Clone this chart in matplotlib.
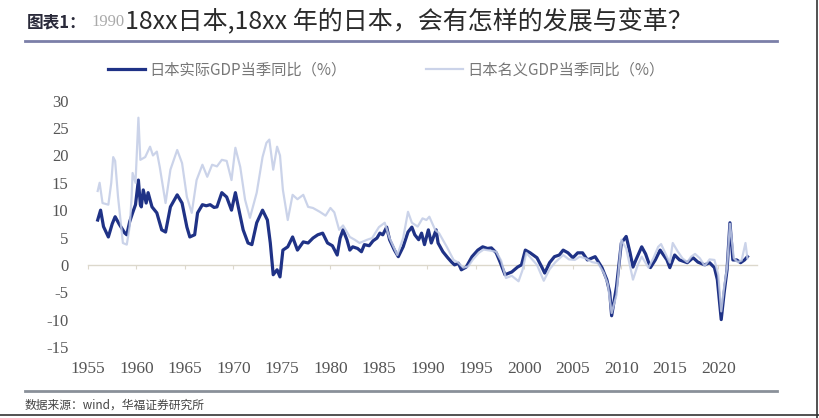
import matplotlib.pyplot as plt
from matplotlib.lines import Line2D

plt.rcParams['font.family'] = ['Noto Sans CJK SC', 'DejaVu Sans']
plt.rcParams['axes.unicode_minus'] = False

# 日本实际GDP当季同比（%）
real_years = [1956.0, 1956.3, 1956.6, 1957.1, 1957.5, 1957.8, 1958.2, 1958.8, 1959.0, 1959.3,
              1959.6, 1959.9, 1960.2, 1960.4, 1960.5, 1960.7, 1961.0, 1961.2, 1961.6, 1962.1,
              1962.6, 1963.0, 1963.5, 1964.2, 1964.7, 1965.2, 1965.5, 1966.0, 1966.3, 1966.8,
              1967.2, 1967.6, 1968.0, 1968.3, 1968.8, 1969.3, 1969.8, 1970.2, 1970.5, 1971.0,
              1971.5, 1971.9, 1972.4, 1973.0, 1973.5, 1973.8, 1974.1, 1974.5, 1974.8, 1975.1,
              1975.6, 1976.1, 1976.6, 1977.2, 1977.7, 1978.2, 1978.7, 1979.2, 1979.7, 1980.2,
              1980.7, 1981.0, 1981.3, 1981.7, 1982.0, 1982.3, 1982.8, 1983.2, 1983.5, 1984.0,
              1984.4, 1984.8, 1985.1, 1985.4, 1985.8, 1986.1, 1986.6, 1987.0, 1987.5, 1988.0,
              1988.4, 1988.7, 1989.1, 1989.4, 1989.7, 1990.1, 1990.4, 1990.9, 1991.1, 1991.6,
              1992.1, 1992.5, 1992.8, 1993.2, 1993.5, 1994.0, 1994.6, 1995.2, 1995.7, 1996.2,
              1996.6, 1997.1, 1997.5, 1998.0, 1998.7, 1999.3, 1999.7, 2000.1, 2000.6, 2001.3,
              2001.8, 2002.1, 2002.6, 2003.1, 2003.6, 2004.0, 2004.5, 2005.0, 2005.5, 2006.0,
              2006.5, 2007.3, 2008.0, 2008.5, 2008.8, 2009.0, 2009.5, 2010.0, 2010.5, 2010.9,
              2011.2, 2011.5, 2012.1, 2012.5, 2013.0, 2013.5, 2014.0, 2014.7, 2015.0, 2015.5,
              2016.0, 2016.8, 2017.4, 2017.9, 2018.6, 2019.1, 2019.6, 2019.9, 2020.3, 2020.6,
              2020.9, 2021.2, 2021.5, 2021.9, 2022.3, 2022.7, 2023.0]
real_gdp = [8.2, 10.0, 7.0, 5.1, 7.5, 8.8, 7.5, 5.8, 5.5, 7.9,
            9.5, 11.0, 15.5, 11.0, 10.6, 13.7, 11.3, 13.2, 10.6, 9.5,
            6.4, 6.0, 10.6, 12.8, 11.3, 6.9, 5.1, 5.5, 9.5, 11.0,
            10.8, 11.0, 10.5, 10.6, 13.2, 12.4, 10.0, 13.2, 10.6, 6.4,
            4.0, 3.7, 7.7, 10.0, 8.2, 4.0, -1.8, -0.9, -2.2, 2.7,
            3.3, 5.1, 2.7, 4.2, 4.0, 4.9, 5.5, 5.8, 4.0, 3.5,
            1.8, 4.9, 6.4, 4.6, 2.7, 3.3, 3.0, 2.4, 3.7, 3.5,
            4.4, 4.9, 5.8, 5.5, 6.9, 4.6, 2.7, 1.5, 3.3, 6.0,
            6.9, 5.5, 4.6, 5.8, 3.7, 6.4, 4.0, 6.4, 4.0, 2.4,
            1.3, 0.5, 0.0, 0.3, -0.9, -0.4, 1.5, 2.7, 3.3, 3.0,
            3.1, 2.2, 0.5, -1.8, -1.3, -0.4, 0.0, 2.7, 2.2, 1.3,
            -0.4, -1.5, 0.4, 1.5, 1.8, 2.7, 2.2, 1.3, 2.2, 2.2,
            0.9, 1.5, -0.5, -2.7, -5.0, -9.3, -4.0, 4.0, 5.2, 2.2,
            -0.4, 0.9, 3.3, 2.0, -0.5, 0.9, 2.7, 0.9, -0.5, 1.8,
            0.9, 0.4, 1.3, 0.5, 0.0, 0.4, -0.5, -2.7, -10.0, -5.1,
            -0.9, 7.7, 0.9, 0.9, 0.4, 0.9, 1.5]

# 日本名义GDP当季同比（%）
nominal_years = [1956.0, 1956.2, 1956.5, 1957.1, 1957.4, 1957.6, 1957.8, 1958.1, 1958.6, 1959.0,
                 1959.3, 1959.5, 1959.6, 1959.9, 1960.2, 1960.4, 1960.9, 1961.4, 1961.7, 1962.1,
                 1962.4, 1963.0, 1963.5, 1964.2, 1964.7, 1965.2, 1965.7, 1966.2, 1966.8, 1967.3,
                 1967.8, 1968.3, 1968.8, 1969.3, 1969.8, 1970.2, 1970.7, 1971.2, 1971.7, 1972.4,
                 1973.0, 1973.4, 1973.7, 1974.1, 1974.5, 1974.8, 1975.1, 1975.6, 1976.1, 1976.6,
                 1977.2, 1977.7, 1978.2, 1978.9, 1979.5, 1980.0, 1980.4, 1980.9, 1981.3, 1982.0,
                 1982.5, 1983.0, 1983.8, 1984.3, 1985.0, 1985.6, 1986.1, 1986.9, 1987.5, 1988.0,
                 1988.4, 1989.0, 1989.5, 1989.9, 1990.2, 1990.8, 1991.2, 1992.0, 1992.7, 1993.2,
                 1993.7, 1994.2, 1994.7, 1995.3, 1995.8, 1996.5, 1997.1, 1997.6, 1998.1, 1998.7,
                 1999.4, 1999.8, 2000.2, 2000.7, 2001.3, 2002.0, 2002.6, 2003.2, 2004.0, 2004.6,
                 2005.2, 2005.7, 2006.3, 2007.0, 2007.6, 2008.2, 2008.6, 2009.0, 2009.5, 2010.0,
                 2010.5, 2011.2, 2011.7, 2012.1, 2012.8, 2013.3, 2013.8, 2014.1, 2014.7, 2015.0,
                 2015.3, 2015.8, 2016.3, 2016.8, 2017.2, 2017.6, 2018.1, 2018.6, 2019.1, 2019.6,
                 2020.0, 2020.3, 2020.6, 2020.9, 2021.2, 2021.6, 2022.0, 2022.4, 2022.8, 2023.0]
nominal_gdp = [13.5, 15.0, 11.3, 11.0, 15.0, 19.7, 19.0, 12.4, 4.0, 3.7,
               7.0, 12.4, 16.8, 15.0, 26.9, 19.2, 19.7, 21.6, 20.0, 20.7,
               17.9, 11.3, 17.4, 21.0, 18.6, 12.4, 9.5, 15.5, 18.3, 16.1,
               18.3, 18.0, 19.2, 19.0, 15.5, 21.4, 17.9, 11.9, 8.6, 13.2,
               19.7, 22.3, 22.9, 17.4, 21.6, 20.0, 13.7, 8.2, 12.8, 12.0,
               12.8, 10.6, 10.4, 9.7, 9.0, 10.4, 9.6, 6.4, 7.2, 5.1,
               4.6, 4.0, 4.6, 4.9, 6.9, 7.7, 4.9, 1.8, 4.9, 9.7,
               7.7, 7.0, 8.5, 8.2, 8.8, 6.4, 5.8, 3.3, 0.9, 0.4,
               -0.5, -0.3, 1.0, 2.2, 2.8, 2.6, 2.4, 0.8, -2.4, -2.0,
               -3.0, -1.0, 2.2, 1.2, 0.0, -2.9, -0.8, 0.5, 1.8, 1.0,
               0.9, 1.5, 1.2, 0.5, 0.3, -1.5, -3.5, -8.8, -5.5, 4.6,
               3.0, -2.7, 0.0, 1.5, -0.5, 1.2, 3.3, 3.8, 1.5, 0.4,
               4.0, 2.5, 1.2, 0.5, 1.5, 2.0, 1.2, -0.2, 1.0, 0.9,
               -1.8, -8.5, -4.0, -0.5, 7.5, 1.2, 0.5, 0.8, 4.0, 1.2]

y_ticks = [30, 25, 20, 15, 10, 5, 0, -5, -10, -15]
x_ticks = [1955, 1960, 1965, 1970, 1975, 1980, 1985, 1990, 1995, 2000, 2005, 2010, 2015, 2020]

fig = plt.figure(figsize=(8.2, 4.18), dpi=100)
ax = fig.add_axes([0.1073, 0.170, 0.816, 0.589])

ax.plot(real_years, real_gdp, color='#1f3286', lw=2.3, label='日本实际GDP当季同比（%）', zorder=3)
ax.plot(nominal_years, nominal_gdp, color='#c2cce6', lw=1.6, alpha=0.85,
        label='日本名义GDP当季同比（%）', zorder=4)

ax.set_xlim(1955, 2024)
ax.set_ylim(-15, 30)
ax.set_yticks(y_ticks)
ax.set_xticks(x_ticks)

for s in ['top', 'right', 'left']:
    ax.spines[s].set_visible(False)
ax.spines['bottom'].set_position(('data', 0))
ax.spines['bottom'].set_color('#dcd8cc')
ax.spines['bottom'].set_linewidth(1.0)
ax.tick_params(axis='x', length=3, color='#dcd8cc', labelbottom=False)
ax.tick_params(axis='y', length=0, pad=14, labelsize=12, labelcolor='#555555')
for lab in ax.get_yticklabels():
    lab.set_family('Liberation Serif')

sec = ax.secondary_xaxis(0)
sec.set_xticks(x_ticks)
sec.spines['bottom'].set_visible(False)
sec.tick_params(length=0, pad=10, labelsize=12.5, labelcolor='#555555')
for lab in sec.get_xticklabels():
    lab.set_family('Liberation Serif')

ax.legend(loc='center', bbox_to_anchor=(0.446, 1.126), ncol=2, frameon=False,
          fontsize=11, labelcolor='#777777', handlelength=2.4, handletextpad=0.3,
          columnspacing=5.2)

# header and footer
fig.text(0.033, 0.947, '图表1：', fontsize=12, fontweight='bold', color='#2a2a3a', va='center')
fig.text(0.112, 0.947, '1990', fontsize=12, color='#aaaaaa', va='center', family='Liberation Serif')
fig.text(0.152, 0.947, '18xx日本,18xx 年的日本，会有怎样的发展与变革？', fontsize=18,
         fontweight='light', color='#2a2a2a', va='center')
fig.add_artist(Line2D([0.03, 0.948], [0.902, 0.902], color='#7b7fa8', lw=2))
fig.add_artist(Line2D([0.03, 0.948], [0.065, 0.065], color='#8a9099', lw=2))
fig.text(0.03, 0.031, '数据来源：wind，华福证券研究所', fontsize=8.5, color='#444444', va='center')
fig.add_artist(Line2D([0.996, 0.996], [0.0, 1.0], color='#333333', lw=1.2))
fig.add_artist(Line2D([0.0, 1.0], [0.006, 0.006], color='#333333', lw=1.2))

fig.savefig('out.png', dpi=100)
